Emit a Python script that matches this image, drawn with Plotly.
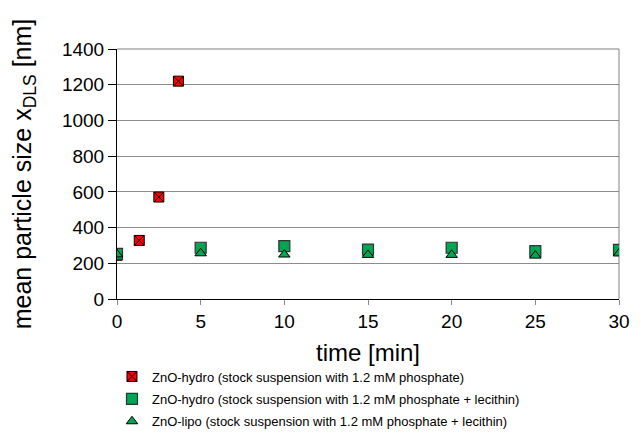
import plotly.graph_objects as go

# Data
t_hydro = [0, 1.33, 2.5, 3.67]
size_hydro = [245, 328, 571, 1220]

t_lec = [0, 5, 10, 15, 20, 25, 30]
size_hydro_lec = [253, 287, 296, 277, 287, 268, 275]
size_lipo_lec = [250, 256, 249, 247, 247, 243, 255]

names = [
    "ZnO-hydro (stock suspension with 1.2 mM phosphate)",
    "ZnO-hydro (stock suspension with 1.2 mM phosphate + lecithin)",
    "ZnO-lipo (stock suspension with 1.2 mM phosphate + lecithin)",
]

x_ticks = [0, 5, 10, 15, 20, 25, 30]
y_ticks = [0, 200, 400, 600, 800, 1000, 1200, 1400]

FONT = "Liberation Sans, Arial, Helvetica, sans-serif"
GREEN = "#00A651"

fig = go.Figure()
fig.add_trace(go.Scatter(
    x=t_hydro, y=size_hydro, mode="markers", name=names[0], legendgroup="a",
    marker=dict(symbol="square-x", size=10, color="#FF0000",
                line=dict(color="#000000", width=1)),
))
fig.add_trace(go.Scatter(
    x=t_lec, y=size_hydro_lec, mode="markers", name=names[1], legendgroup="b",
    marker=dict(symbol="square", size=11, color=GREEN,
                line=dict(color="#333333", width=1.2)),
))
fig.add_trace(go.Scatter(
    x=t_lec, y=size_lipo_lec, mode="markers", name=names[2], legendgroup="c",
    marker=dict(symbol="triangle-up", size=10, color=GREEN,
                line=dict(color="#000000", width=1)),
))

# The page body adds an 8px offset, so the figure is sized to fit the window.
fig.update_layout(
    width=633, height=438,
    margin=dict(l=109, r=22, t=41, b=147, autoexpand=False),
    paper_bgcolor="white", plot_bgcolor="white",
    font=dict(family=FONT, color="#000000"),
    showlegend=True,
    legend=dict(
        x=-0.01, y=-0.25, xanchor="left", yanchor="top",
        font=dict(size=13, family=FONT, color="#000000"),
        tracegroupgap=2.5, itemwidth=30,
        bgcolor="rgba(0,0,0,0)",
    ),
    xaxis=dict(
        range=[0, 30], tickvals=x_ticks, ticktext=[str(v) for v in x_ticks],
        showgrid=False, zeroline=False, automargin=False,
        showline=True, linecolor="#000000", linewidth=1,
        ticks="outside", ticklen=5, tickcolor="#888888",
        tickfont=dict(size=19, family=FONT),
        title=dict(text="time [min]", font=dict(size=24, family=FONT), standoff=13),
    ),
    yaxis=dict(
        range=[0, 1400], tickvals=y_ticks, ticktext=[str(v) for v in y_ticks],
        showgrid=True, gridcolor="#8c8c8c", gridwidth=1, zeroline=False,
        automargin=False,
        showline=True, linecolor="#000000", linewidth=1,
        ticks="outside", ticklen=8, tickcolor="#000000",
        tickfont=dict(size=19, family=FONT),
        title=dict(text="mean particle size x<sub>DLS</sub> [nm]",
                   font=dict(size=25, family=FONT), standoff=24),
    ),
    shapes=[
        dict(type="line", xref="paper", yref="paper", x0=1, x1=1, y0=0, y1=1,
             line=dict(color="#808080", width=1), layer="below"),
        dict(type="line", xref="paper", yref="paper", x0=0, x1=1, y0=1, y1=1,
             line=dict(color="#808080", width=1), layer="below"),
    ],
)

fig.write_html("out.html")
